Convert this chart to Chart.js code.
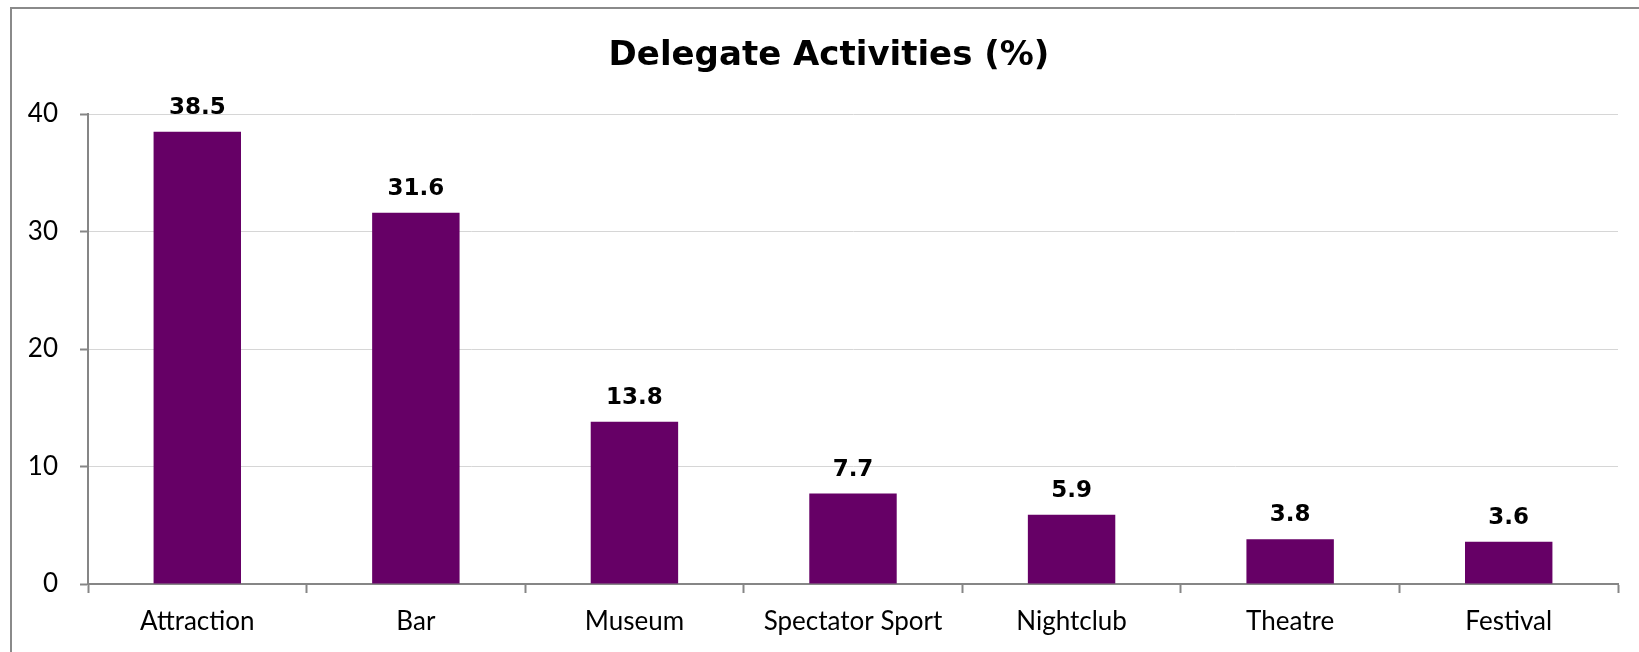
<!DOCTYPE html>
<html>
<head>
<meta charset="utf-8">
<title>Delegate Activities</title>
<script src="https://cdn.jsdelivr.net/npm/chart.js@4"></script>
<style>
  html, body { margin: 0; padding: 0; background: #fff; }
  #wrap { position: relative; width: 1639px; height: 652px; overflow: hidden; }
  #frame {
    position: absolute; left: 10px; top: 7px; width: 1700px; height: 700px;
    border-left: 2px solid #8a8a8a; border-top: 2px solid #8a8a8a;
  }
  #chart { position: absolute; left: 0; top: 0; }
</style>
</head>
<body>
<div id="wrap">
  <div id="frame"></div>
  <canvas id="chart" width="1639" height="652"></canvas>
</div>
<script>
const categories = ['Attraction', 'Bar', 'Museum', 'Spectator Sport', 'Nightclub', 'Theatre', 'Festival'];
const shares = [38.5, 31.6, 13.8, 7.7, 5.9, 3.8, 3.6];
const yTicks = [0, 10, 20, 30, 40];
const chartTitle = 'Delegate Activities (%)';

const FONT = 'Lato, "Liberation Sans", sans-serif';
const BOLD_FONT = '"DejaVu Sans", "Liberation Sans", sans-serif';
const AXIS_GREY = '#868686';

// Title centred over the framed box (the frame runs past the right edge)
const boxTitle = {
  id: 'boxTitle',
  afterDraw(chart) {
    const ctx = chart.ctx;
    ctx.save();
    ctx.font = 'bold 34px ' + BOLD_FONT;
    ctx.fillStyle = '#000';
    ctx.textAlign = 'center';
    ctx.textBaseline = 'alphabetic';
    ctx.fillText(chartTitle, 829, 65);
    ctx.restore();
  }
};

// Bold value above each bar
const valueLabels = {
  id: 'valueLabels',
  afterDatasetsDraw(chart) {
    const ctx = chart.ctx;
    const meta = chart.getDatasetMeta(0);
    ctx.save();
    ctx.font = 'bold 23px ' + BOLD_FONT;
    ctx.fillStyle = '#000';
    ctx.textAlign = 'center';
    ctx.textBaseline = 'alphabetic';
    meta.data.forEach((bar, i) => {
      ctx.fillText(shares[i].toFixed(1), bar.x, bar.y - 18);
    });
    ctx.restore();
  }
};

const ctx = document.getElementById('chart').getContext('2d');
const chart = new Chart(ctx, {
  type: 'bar',
  data: {
    labels: categories,
    datasets: [{
      label: chartTitle,
      data: shares,
      backgroundColor: '#660066',
      borderWidth: 0,
      barPercentage: 0.4,
      categoryPercentage: 1
    }]
  },
  options: {
    responsive: false,
    animation: false,
    layout: { padding: { left: 0, right: 21, top: 114, bottom: 0 } },
    plugins: {
      legend: { display: false },
      tooltip: { enabled: false },
      title: { display: false }
    },
    scales: {
      x: {
        grid: {
          display: true,
          offset: true,
          drawOnChartArea: false,
          drawTicks: true,
          tickLength: 9,
          tickColor: AXIS_GREY,
          tickWidth: 2
        },
        border: { display: true, color: AXIS_GREY, width: 2 },
        ticks: {
          color: '#000',
          font: { family: FONT, size: 26 },
          padding: 13,
          maxRotation: 0,
          autoSkip: false
        },
        afterFit(scale) { scale.height = 68; }
      },
      y: {
        min: 0,
        max: 40,
        afterBuildTicks(scale) { scale.ticks = yTicks.map(v => ({ value: v })); },
        grid: {
          color: '#d6d6d6',
          lineWidth: 1,
          tickLength: 8,
          tickColor: AXIS_GREY,
          tickWidth: 2
        },
        border: { display: true, color: AXIS_GREY, width: 2 },
        ticks: {
          color: '#000',
          font: { family: FONT, size: 26 },
          padding: 22
        },
        afterFit(scale) { scale.width = 88; }
      }
    }
  },
  plugins: [valueLabels, boxTitle]
});
</script>
</body>
</html>
